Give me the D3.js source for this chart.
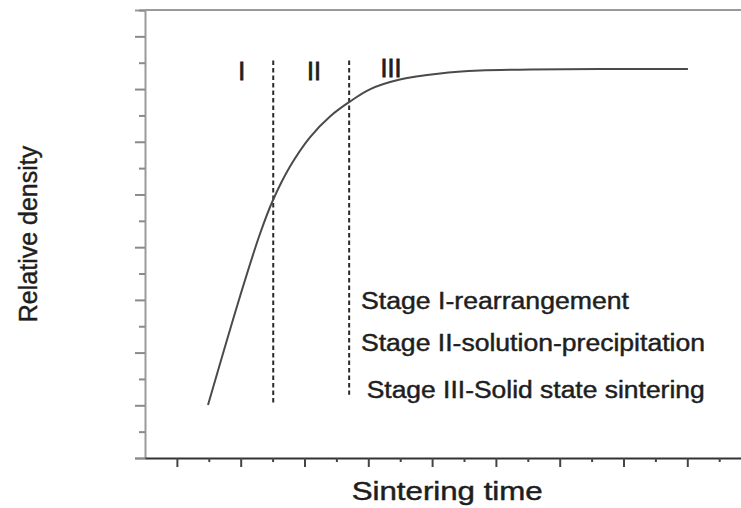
<!DOCTYPE html>
<meta charset="utf-8">
<head>
    <title>Sintering stages</title>
    <script type="text/javascript" src="https://d3js.org/d3.v7.min.js"></script>
    <style>
        body { margin: 0; background: #fff; }
        text { font-family: "Liberation Sans", Arial, sans-serif; fill: #1e1e1e; stroke: #1e1e1e; stroke-width: 0.45; }
    </style>
</head>
<body>
<script>
    // curve (x in tick units, y in tick units)
    var timeVals    = [1.975, 2.98, 3.6, 4.01, 4.55, 5.17, 5.8, 6.43, 7.05, 7.99, 9.25, 10.5, 12.07, 14.26, 17.02];
    var densityVals = [2.01, 6.14, 8.49, 9.78, 11.07, 12.17, 12.96, 13.53, 13.99, 14.36, 14.59, 14.7, 14.74, 14.76, 14.76];

    // stage boundaries (dashed lines)
    var stageBounds = [4.02, 6.4];
    var stageTop    = [15.08, 15.08];
    var stageBottom = [2.0, 2.4];

    // roman numerals above the curve
    var stageNames = ["I", "II", "III"];
    var stageNameX = [3.03, 5.3, 7.71];
    var stageNameY = [14.35, 14.35, 14.46];

    var legendLines = ["Stage I-rearrangement", "Stage II-solution-precipitation", "Stage III-Solid state sintering"];

    var xTicks = d3.range(0, 19);
    var yTicks = d3.range(0, 18);

    var width = 741, height = 508;

    var svg = d3.select('body').append('svg')
        .attr('width', width)
        .attr('height', height);

    var x = d3.scaleLinear().domain([0, 19]).range([145, 145 + 19 * 31.9]);
    var y = d3.scaleLinear().domain([0, 17]).range([458, 10]);

    // top frame line
    svg.append('line')
        .attr('x1', x(0)).attr('x2', width)
        .attr('y1', y(17)).attr('y2', y(17))
        .attr('stroke', '#9a9a9a').attr('stroke-width', 2);

    // left axis: long ticks on even values, short on odd
    var yAxis = svg.append('g').attr('transform', 'translate(' + x(0) + ',0)');
    yAxis.call(d3.axisLeft(y).tickValues(yTicks.filter(function(d){ return d % 2 == 0; }))
        .tickSize(10).tickFormat(''));
    yAxis.append('g').call(d3.axisLeft(y).tickValues(yTicks.filter(function(d){ return d % 2 == 1; }))
        .tickSize(6).tickFormat(''));
    yAxis.selectAll('.domain').filter(function(d, i){ return i > 0; }).remove();
    yAxis.selectAll('path').attr('stroke', '#9a9a9a').attr('stroke-width', 2);
    yAxis.selectAll('line').attr('stroke', '#8a8a8a').attr('stroke-width', 2);

    // bottom axis: long ticks on odd values, short on even
    var xAxis = svg.append('g').attr('transform', 'translate(0,' + y(0) + ')');
    xAxis.call(d3.axisBottom(x).tickValues(xTicks.filter(function(d){ return d % 2 == 1; }))
        .tickSize(9).tickSizeOuter(0).tickFormat(''));
    xAxis.append('g').call(d3.axisBottom(x).tickValues(xTicks.filter(function(d){ return d % 2 == 0 && d > 0; }))
        .tickSize(4).tickSizeOuter(0).tickFormat(''));
    xAxis.selectAll('.domain').filter(function(d, i){ return i > 0; }).remove();
    xAxis.selectAll('path').attr('stroke', '#333').attr('stroke-width', 2);
    xAxis.selectAll('line').attr('stroke', '#444').attr('stroke-width', 2);

    // dashed stage boundaries
    svg.selectAll('.bound')
        .data(stageBounds)
        .enter()
        .append('line')
        .attr('class', 'bound')
        .attr('x1', function(d){ return x(d); })
        .attr('x2', function(d){ return x(d); })
        .attr('y1', function(d, i){ return y(stageTop[i]); })
        .attr('y2', function(d, i){ return y(stageBottom[i]); })
        .attr('stroke', '#2a2a2a')
        .attr('stroke-width', 2)
        .attr('stroke-dasharray', '4.5,3');

    // density curve
    var pts = timeVals.map(function(t, i){ return [t, densityVals[i]]; });
    var line = d3.line()
        .x(function(d){ return x(d[0]); })
        .y(function(d){ return y(d[1]); })
        .curve(d3.curveCatmullRom.alpha(0.5));
    svg.append('path')
        .datum(pts)
        .attr('d', line)
        .attr('fill', 'none')
        .attr('stroke', '#4a4a4a')
        .attr('stroke-width', 2);

    // roman numerals
    svg.selectAll('.roman')
        .data(stageNames)
        .enter()
        .append('text')
        .attr('class', 'roman')
        .attr('x', function(d, i){ return x(stageNameX[i]); })
        .attr('y', function(d, i){ return y(stageNameY[i]); })
        .attr('text-anchor', 'middle')
        .attr('font-size', 25)
        .style('stroke-width', 0.8)
        .text(function(d){ return d; });

    // stage descriptions
    var legX = [361, 361, 366.7];
    var legY = [309, 351, 398];
    var legW = [268, 344, 338];
    svg.selectAll('.leg')
        .data(legendLines)
        .enter()
        .append('text')
        .attr('class', 'leg')
        .attr('x', function(d, i){ return legX[i]; })
        .attr('y', function(d, i){ return legY[i]; })
        .attr('font-size', 23)
        .attr('textLength', function(d, i){ return legW[i]; })
        .attr('lengthAdjust', 'spacingAndGlyphs')
        .text(function(d){ return d; });

    // axis titles
    svg.append('text')
        .attr('x', 351.7)
        .attr('y', 500)
        .attr('font-size', 25)
        .attr('textLength', 191)
        .attr('lengthAdjust', 'spacingAndGlyphs')
        .text('Sintering time');

    svg.append('text')
        .attr('transform', 'translate(36.5,234) rotate(-90)')
        .attr('text-anchor', 'middle')
        .attr('font-size', 25)
        .text('Relative density');
</script>
</body>
</html>
